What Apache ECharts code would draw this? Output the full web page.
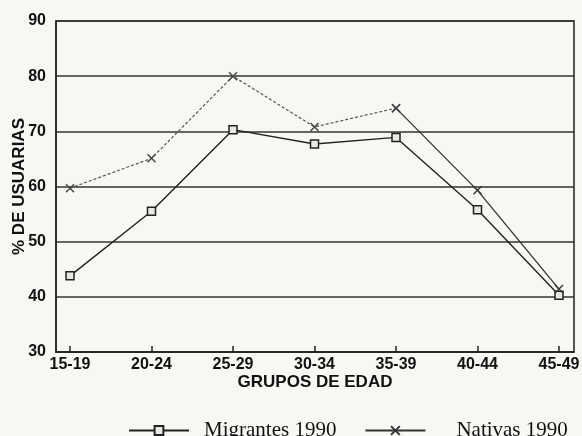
<!DOCTYPE html>
<html>
<head>
<meta charset="utf-8">
<script src="https://cdn.jsdelivr.net/npm/echarts@6/dist/echarts.min.js"></script>
<style>
html,body{margin:0;padding:0;background:#f7f7f4;}
#c{width:582px;height:436px;}
</style>
</head>
<body>
<div id="c"></div>
<script>
var categories = ['15-19','20-24','25-29','30-34','35-39','40-44','45-49'];
var migrantes = [43.8, 55.5, 70.3, 67.7, 68.9, 55.8, 40.3];
var nativas = [59.7, 65.1, 80.0, 70.8, 74.2, 59.3, 41.4];
var yTicks = [30, 40, 50, 60, 70, 80, 90];

var splitAt = 4;
function pairs(arr, from, to) {
  return arr.map(function (v, i) { return [i, (i >= from && i <= to) ? v : null]; });
}
var idx = categories.map(function (c, i) { return i; });
var xSym = 'path://M0,0L10,10M10,0L0,10';
var sans = 'Liberation Sans';

var chart = echarts.init(document.getElementById('c'));
chart.setOption({
  backgroundColor: '#f7f7f4',
  animation: false,
  grid: { left: 56, right: 8, top: 21, bottom: 84, show: true, borderColor: '#222', borderWidth: 1.5,
    backgroundColor: 'transparent', containLabel: false, outerBoundsMode: 'none' },
  legend: {
    data: [
      { name: 'Migrantes 1990' },
      { name: 'Nativas 1990', textStyle: { padding: [0, 0, 0, 26] } }
    ],
    left: 123, top: 415,
    itemWidth: 60, itemHeight: 11, itemGap: 28,
    textStyle: { fontFamily: 'Liberation Serif', fontSize: 21, color: '#111', padding: [0, 0, 0, 10] }
  },
  xAxis: {
    type: 'value', min: -0.172, max: 6.184,
    name: 'GRUPOS DE EDAD', nameLocation: 'middle', nameGap: 22, nameMoveOverlap: false,
    nameTextStyle: { fontFamily: sans, fontWeight: 'bold', fontSize: 17, color: '#111' },
    splitLine: { show: false },
    axisLine: { show: true, lineStyle: { color: '#222', width: 1.5 } },
    axisTick: { show: true, inside: true, length: 6, customValues: idx, lineStyle: { color: '#222', width: 1.5 } },
    axisLabel: { customValues: idx, margin: 5, fontFamily: sans, fontWeight: 'bold', fontSize: 16, color: '#111',
      formatter: function (v) { return categories[Math.round(v)]; } }
  },
  yAxis: {
    type: 'value', min: yTicks[0], max: yTicks[yTicks.length - 1], interval: 10,
    name: '% DE USUARIAS', nameLocation: 'middle', nameGap: 28, nameRotate: 90, nameMoveOverlap: false,
    nameTextStyle: { fontFamily: sans, fontWeight: 'bold', fontSize: 17, color: '#111' },
    axisLine: { show: true, onZero: false, lineStyle: { color: '#222', width: 1.5 } },
    axisTick: { show: false },
    splitLine: { show: true, lineStyle: { color: '#333', width: 1.6 } },
    axisLabel: { margin: 10, fontFamily: sans, fontWeight: 'bold', fontSize: 16, color: '#111' }
  },
  series: [
    {
      name: 'Migrantes 1990', type: 'line', data: pairs(migrantes, 0, 6),
      symbol: 'rect', symbolSize: 8, showAllSymbol: true,
      lineStyle: { color: '#222', width: 1.4 },
      itemStyle: { color: '#e8e8e4', borderColor: '#222', borderWidth: 1.5 }
    },
    {
      name: 'Nativas 1990', type: 'line', data: pairs(nativas, splitAt, 6),
      symbol: xSym, symbolSize: 8,
      lineStyle: { color: '#333', width: 1.3 },
      itemStyle: { color: '#333', borderColor: '#333', borderWidth: 1.4 }
    },
    {
      name: 'Nativas 1990 (a)', type: 'line', data: pairs(nativas, 0, splitAt),
      symbol: xSym, symbolSize: 8,
      lineStyle: { color: '#555', width: 1.2, type: [3, 2] },
      itemStyle: { color: '#444', borderColor: '#444', borderWidth: 1.4 }
    }
  ]
});
</script>
</body>
</html>
